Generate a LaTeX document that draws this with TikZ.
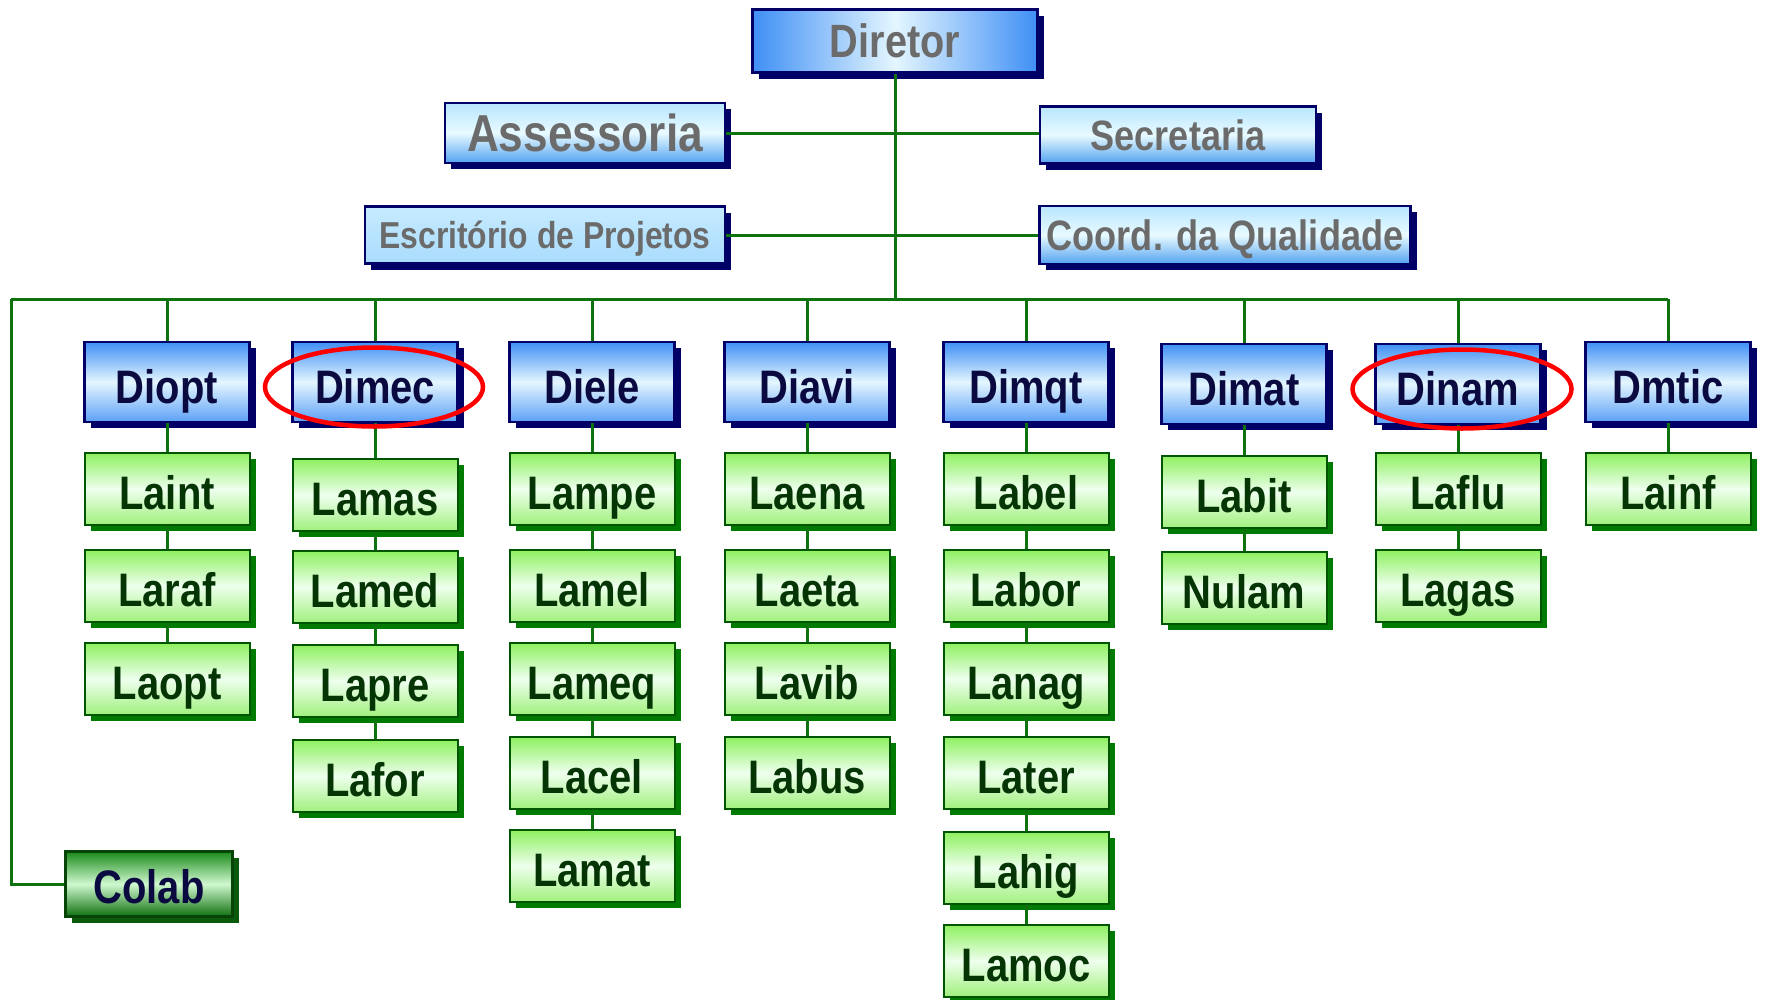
\documentclass[tikz,border=0pt]{standalone}
\usepackage{fontspec}
\setmainfont[FakeStretch=0.85]{Liberation Sans}
\usetikzlibrary{shadows,shapes.geometric}

\definecolor{navy}{HTML}{000066}
\definecolor{blueA}{HTML}{3F8FF5}
\definecolor{blueL}{HTML}{E4F6FF}
\definecolor{topT}{HTML}{B8E6FF}
\definecolor{topM}{HTML}{E8FAFF}
\definecolor{topB}{HTML}{52A2F0}
\definecolor{greenT}{HTML}{8EF060}
\definecolor{greenM}{HTML}{EEFFEE}
\definecolor{greenB}{HTML}{A0F07C}
\definecolor{greenBorder}{HTML}{005500}
\definecolor{greenShadow}{HTML}{007A00}
\definecolor{colabT}{HTML}{1A8A1A}
\definecolor{colabM}{HTML}{D0F8D0}
\definecolor{colabB}{HTML}{0E700E}
\definecolor{wireG}{HTML}{0E720E}
\definecolor{grayText}{HTML}{6B6B6B}
\definecolor{divText}{HTML}{0A0A40}
\definecolor{labText}{HTML}{053505}

\begin{document}
\begin{tikzpicture}[x=1pt,y=-1pt,
  box/.style={rectangle, inner sep=0pt, line width=2.5pt,
    drop shadow={shadow xshift=6pt, shadow yshift=-6pt, opacity=1, fill=#1}},
  topbox/.style={box=navy, draw=navy, top color=topT, bottom color=topB, middle color=topM,
    text=grayText, text height=0.716*#1, text depth=0pt,
    font=\fontsize{#1}{#1}\selectfont\bfseries},
  headbox/.style={box=navy, draw=navy, left color=blueA, right color=blueA, middle color=blueL,
    text=grayText, minimum width=285, minimum height=63, text height=33pt, text depth=0pt,
    font=\fontsize{46.7}{48}\selectfont\bfseries},
  divbox/.style={box=navy, draw=navy, top color=blueA, bottom color=blueA!85!white, middle color=blueL,
    text=divText, minimum width=165, minimum height=80, text height=42pt, text depth=0pt,
    font=\fontsize{47}{48}\selectfont\bfseries},
  labbox/.style={box=greenShadow, draw=greenBorder, line width=2pt, top color=greenT, bottom color=greenB,
    middle color=greenM, text=labText, minimum width=165, minimum height=72, text height=40pt, text depth=0pt,
    font=\fontsize{47}{48}\selectfont\bfseries},
  colabbox/.style={box=colabB!80!black, draw=colabB!60!black, top color=colabT, bottom color=colabB,
    middle color=colabM, text=divText, minimum width=167, minimum height=65, text height=39pt, text depth=0pt,
    font=\fontsize{47}{48}\selectfont\bfseries},
  wire/.style={draw=wireG, line width=3pt},
  ring/.style={ellipse, draw=red, line width=4.5pt, inner sep=0pt}
]
\useasboundingbox (0,0) rectangle (1768,999);

% management boxes
\node[headbox] (diretor) at (895,41) {Diretor};
\node[topbox=52, minimum width=280, minimum height=60] (assessoria) at (585,133) {Assessoria};
\node[topbox=42.4, minimum width=276, minimum height=57] (secretaria) at (1178,135) {Secretaria};
\node[topbox=37.5, minimum width=360, minimum height=57, top color=topT!80!white, middle color=topM, bottom color=topT!85!topB] (escritorio) at (545,235) {Escritório de Projetos};
\node[topbox=42.5, minimum width=371, minimum height=58] (coord) at (1225,235) {Coord. da Qualidade};

% divisions
\node[divbox] (diopt) at (167,382) {Diopt};
\node[divbox] (dimec) at (375,382) {Dimec};
\node[divbox] (diele) at (592,382) {Diele};
\node[divbox] (diavi) at (807,382) {Diavi};
\node[divbox] (dimqt) at (1026,382) {Dimqt};
\node[divbox] (dimat) at (1244,384) {Dimat};
\node[divbox] (dinam) at (1458,384) {Dinam};
\node[divbox] (dmtic) at (1668,382) {Dmtic};

% laboratories
\node[labbox] (laint) at (167,489) {Laint};
\node[labbox] (laraf) at (167,586) {Laraf};
\node[labbox] (laopt) at (167,679) {Laopt};

\node[labbox] (lamas) at (375,495) {Lamas};
\node[labbox] (lamed) at (375,587) {Lamed};
\node[labbox] (lapre) at (375,681) {Lapre};
\node[labbox] (lafor) at (375,776) {Lafor};

\node[labbox] (lampe) at (592,489) {Lampe};
\node[labbox] (lamel) at (592,586) {Lamel};
\node[labbox] (lameq) at (592,679) {Lameq};
\node[labbox] (lacel) at (592,773) {Lacel};
\node[labbox] (lamat) at (592,866) {Lamat};

\node[labbox] (laena) at (807,489) {Laena};
\node[labbox] (laeta) at (807,586) {Laeta};
\node[labbox] (lavib) at (807,679) {Lavib};
\node[labbox] (labus) at (807,773) {Labus};

\node[labbox] (label) at (1026,489) {Label};
\node[labbox] (labor) at (1026,586) {Labor};
\node[labbox] (lanag) at (1026,679) {Lanag};
\node[labbox] (later) at (1026,773) {Later};
\node[labbox] (lahig) at (1026,868) {Lahig};
\node[labbox] (lamoc) at (1026,961) {Lamoc};

\node[labbox] (labit) at (1244,492) {Labit};
\node[labbox] (nulam) at (1244,588) {Nulam};

\node[labbox] (laflu) at (1458,489) {Laflu};
\node[labbox] (lagas) at (1458,586) {Lagas};

\node[labbox] (lainf) at (1668,489) {Lainf};

\node[colabbox] (colab) at (149,884) {Colab};

% connectors
\coordinate (busL) at (11,299);
\draw[wire] (diretor.south) -- (diretor.south |- busL);
\draw[wire] (assessoria.east) -- (secretaria.west |- assessoria.east);
\draw[wire] (escritorio.east) -- (coord.west);
\draw[wire] (busL) -- (dmtic.north |- busL);
\draw[wire] (busL) |- (colab.west);
\foreach \d in {diopt,dimec,diele,diavi,dimqt,dimat,dinam,dmtic}
  \draw[wire] (\d.north |- busL) -- (\d.north);
\foreach \a/\b in {diopt/laint,laint/laraf,laraf/laopt,
                   dimec/lamas,lamas/lamed,lamed/lapre,lapre/lafor,
                   diele/lampe,lampe/lamel,lamel/lameq,lameq/lacel,lacel/lamat,
                   diavi/laena,laena/laeta,laeta/lavib,lavib/labus,
                   dimqt/label,label/labor,labor/lanag,lanag/later,later/lahig,lahig/lamoc,
                   dimat/labit,labit/nulam,
                   dinam/laflu,laflu/lagas,
                   dmtic/lainf}
  \draw[wire] (\a.south) -- (\b.north);

% highlight rings
\node[ring, minimum width=218, minimum height=79] (ringdimec) at (374,387) {};
\node[ring, minimum width=219, minimum height=79] (ringdinam) at (1462,389) {};
\end{tikzpicture}
\end{document}
